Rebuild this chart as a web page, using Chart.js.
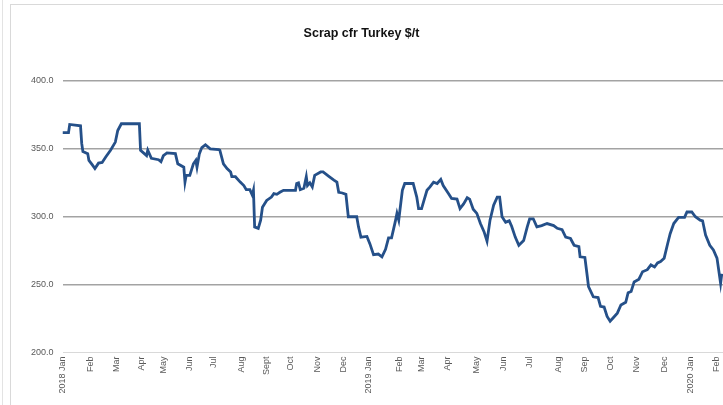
<!DOCTYPE html>
<html>
<head>
<meta charset="utf-8">
<script src="https://cdn.jsdelivr.net/npm/chart.js@4.4.1/dist/chart.umd.min.js"></script>
<style>
  html, body { margin: 0; padding: 0; background: #fff; overflow: hidden; }
  #wrap { position: relative; width: 723px; height: 405px; }
  #chart { position: absolute; left: 0; top: 0; }
  #frame { position: absolute; left: 10px; top: 4px; width: 740px; height: 420px; border: 1px solid #d9d9d9; pointer-events: none; }
  #side { position: absolute; left: 2px; top: 0; width: 1px; height: 405px; background: #e3e3e3; }
</style>
</head>
<body>
<div id="wrap">
  <div id="side"></div>
  <div id="frame"></div>
  <canvas id="chart" width="723" height="405"></canvas>
</div>
<script>
// Trading day number (0 = first quote of Jan 2018) and price in $/t
const tradingDay = [
  0, 5, 6, 15, 16, 17, 21, 22, 25, 27, 30, 33, 36, 40, 44, 46, 49, 64, 65, 70,
  71, 74, 80, 82, 84, 87, 94, 96, 101, 102, 103, 106, 109, 111, 112, 114, 116, 119, 123, 130,
  131, 134, 137, 140, 141, 144, 148, 151, 153, 156, 158, 159, 160, 163, 165, 166.5, 170, 174, 176, 178.5,
  181, 184, 194, 195, 196.5, 198, 201, 203, 204, 206, 208, 210, 215, 217, 221.5, 226, 228.5, 230, 233, 236,
  238, 245, 246.5, 248.5, 253.5, 256, 259, 263, 266, 269, 271.5, 274, 277, 278.5, 280, 281, 283, 285, 292, 295,
  296.5, 299, 301, 303.5, 306, 309, 312, 315, 317, 321.5, 324, 328.5, 331, 334, 337, 339, 342, 345, 348, 351,
  353.5, 356, 359, 362, 364, 366, 369, 372, 374, 377, 380, 384, 387, 389, 392, 395, 399, 403.5, 409, 412,
  416, 419, 423, 426, 430, 431, 435, 437, 438, 442, 446, 448, 451, 453.5, 456, 459, 462, 465, 469, 471,
  473.5, 476, 480, 483, 487, 490, 493, 495.5, 498, 501, 504, 506, 509, 513, 518, 520, 524, 527, 531, 533,
  535.5, 539, 542, 545, 548, 549
];
const price = [
  362, 362, 368, 367, 354, 348, 346.5, 341.5, 338, 335.5, 339.5, 340, 344, 349, 355, 363.5, 368.5, 368.5, 349, 345,
  349, 343, 342, 340.5, 345, 347, 346.5, 339, 336.5, 325.5, 330.5, 330.5, 339, 341.5, 336.5, 346.5, 351, 353, 350, 349.5,
  349, 339, 335.5, 333, 329.5, 329.5, 325.5, 323, 320, 320, 316, 319.5, 292.5, 291.5, 297.5, 307, 312, 314.5, 317, 316.5,
  318, 319.5, 319.5, 324.5, 325, 320, 321, 329.5, 323, 325, 322, 330.5, 333, 333, 330, 327, 325.5, 318, 317.5, 316.5,
  300, 300, 292.5, 285, 285.5, 280, 272, 272.5, 270.5, 276, 284.5, 284.5, 296, 302.5, 297.5, 305, 319.5, 324.5, 324.5, 314.5,
  306, 306, 312, 319.5, 322, 325.5, 324.5, 327.5, 323, 317, 313.5, 313, 306, 309.5, 314, 313, 305.5, 302.5, 295, 289,
  282, 297.5, 308.5, 314.5, 314.5, 300, 296, 297, 293, 285, 279, 282.5, 292.5, 298.5, 298.5, 292.5, 293.5, 295, 293.5, 291.5,
  290.5, 285, 284, 279, 278, 270.5, 270, 256, 248.5, 241, 240.5, 234, 233.5, 226.5, 223, 226, 229, 235, 237, 244,
  245, 252, 254, 259.5, 261, 264.5, 263, 266, 267, 269.5, 280.5, 287.5, 295, 299.5, 299.5, 303.5, 303.5, 300, 297.5, 297,
  286.5, 279, 275.5, 269.5, 251, 258
];

// Month ticks: trading day of the first quote of each month
const monthTicks = [0, 23, 45, 66, 84, 106, 126, 149, 170, 190, 212, 234, 255, 281, 299, 321, 345, 367, 389, 413, 435, 456, 478, 501, 523, 545];
const monthLabels = ["2018 Jan", "Feb", "Mar", "Apr", "May", "Jun", "Jul", "Aug", "Sept", "Oct", "Nov", "Dec",
  "2019 Jan", "Feb", "Mar", "Apr", "May", "Jun", "Jul", "Aug", "Sep", "Oct", "Nov", "Dec", "2020 Jan", "Feb"];
const yTicks = [200, 250, 300, 350, 400];

document.addEventListener("DOMContentLoaded", () => {
  const points = tradingDay.map((d, i) => ({ x: d, y: price[i] }));

  new Chart(document.getElementById("chart"), {
    type: "line",
    data: {
      datasets: [{
        data: points,
        borderColor: "#255089",
        borderWidth: 2.8,
        pointRadius: 0,
        tension: 0,
        fill: false
      }]
    },
    options: {
      responsive: false,
      animation: false,
      layout: { padding: { left: 0, right: 0, top: 0, bottom: 0 } },
      plugins: {
        legend: { display: false },
        tooltip: { enabled: false },
        title: {
          display: true,
          text: "Scrap cfr Turkey $/t",
          color: "#111",
          font: { family: "'Liberation Sans Narrow', 'Liberation Sans', sans-serif", size: 12.5, weight: "bold" },
          padding: { top: 26, bottom: 40 }
        }
      },
      scales: {
        x: {
          type: "linear",
          min: 0,
          max: 550,
          afterBuildTicks: scale => { scale.ticks = monthTicks.map(v => ({ value: v })); },
          afterFit: scale => {
            // the plot runs right up to the edge of the picture
            scale.height = 52.5;
            scale.paddingLeft = 0;
            scale.paddingRight = 0;
          },
          grid: { display: false, drawTicks: false },
          border: { display: false },
          ticks: {
            autoSkip: false,
            minRotation: 90,
            maxRotation: 90,
            padding: 4,
            color: "#595959",
            font: { family: "'Liberation Sans', sans-serif", size: 9 },
            callback: (value, index) => monthLabels[index]
          }
        },
        y: {
          min: 200,
          max: 400,
          afterBuildTicks: scale => { scale.ticks = yTicks.map(v => ({ value: v })); },
          afterFit: scale => { scale.width = 62.5; },
          border: { display: false },
          grid: {
            drawTicks: false,
            color: ctx => ctx.tick && ctx.tick.value === 200 ? "#d9d9d9" : "#a3a3a3",
            lineWidth: ctx => ctx.tick && ctx.tick.value === 200 ? 1 : 1.5
          },
          ticks: {
            padding: 9,
            color: "#595959",
            font: { family: "'Liberation Sans', sans-serif", size: 9 },
            callback: v => v.toFixed(1)
          }
        }
      }
    }
  });
});
</script>
</body>
</html>
